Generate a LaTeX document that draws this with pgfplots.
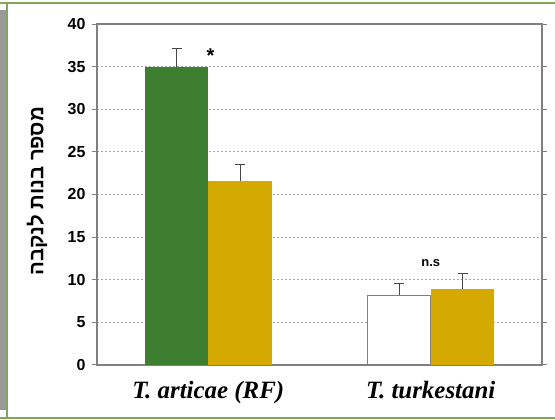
\documentclass[border=0pt]{standalone}
\usepackage{fontspec}
\setmainfont{Liberation Sans}
\newfontfamily\serifbi{Liberation Serif}
\newfontfamily\hebfont[Script=Hebrew]{Liberation Sans}
\usepackage{pgfplots}
\pgfplotsset{compat=1.18}
\TeXXeTstate=1
\definecolor{bargreen}{RGB}{62,126,48}
\definecolor{baryellow}{RGB}{213,170,0}
\definecolor{framegreen}{RGB}{128,168,88}
\definecolor{axgray}{RGB}{128,128,128}
\definecolor{errgray}{RGB}{70,70,70}
\pgfplotsset{mybar/.style={ybar, bar width=63.5bp, bar shift=0pt,
    error bars/y dir=plus, error bars/y explicit, error bars/error mark=|,
    error bars/error mark options={errgray, line width=1bp, mark size=5bp},
    error bars/error bar style={errgray, line width=1bp}}}
\begin{document}
\begin{tikzpicture}
\path[use as bounding box] (0,0) rectangle (555bp,420bp);
\fill[white] (0,0) rectangle (555bp,420bp);
\fill[gray!80] (0,10bp) rectangle (6.5bp,410bp);
\draw[framegreen, line width=1.6bp] (-1bp,2bp) -- (555bp,2bp);
\draw[framegreen, line width=1.6bp] (-1bp,417bp) -- (555bp,417bp);
\draw[framegreen, line width=1.6bp] (7bp,2bp) -- (7bp,417bp);
\begin{axis}[
  at={(97bp,55bp)}, anchor=south west,
  scale only axis, width=445bp, height=341bp,
  xmin=-0.5, xmax=1.5, ymin=0, ymax=40,
  ytick={0,5,...,40},
  xtick={0,1},
  xticklabels={{T. articae (RF)},{T. turkestani}},
  major x tick style={draw=none},
  extra x ticks={-0.5,0.5,1.5},
  extra x tick labels={},
  extra x tick style={major tick length=6bp, tick style={draw=axgray, line width=1bp}, xmajorgrids=false},
  tick align=outside,
  major tick length=5bp,
  ytick style={draw=axgray, line width=1bp},
  axis line style={draw=axgray, line width=1.4bp},
  ymajorgrids,
  major grid style={draw=gray!70, dash pattern=on 2bp off 2bp, line width=0.8bp},
  /pgf/number format/assume math mode=true,
  yticklabel style={font=\fontsize{16}{18}\selectfont\bfseries, xshift=-3bp},
  xticklabel style={font=\serifbi\fontsize{25}{28}\selectfont\bfseries\itshape, yshift=-8bp},
  ylabel={\hebfont\bfseries\beginR מספר בנות לנקבה\endR},
  ylabel style={at={(axis description cs:-0.135,0.51)}, anchor=center, font=\fontsize{20.5}{24}\selectfont},
  clip=false,
]
% T. articae (RF): x offsets of +-0.1427 category units place the two bars side by side
\addplot[mybar, fill=bargreen, draw=none] coordinates {(-0.1427,35.0) +- (0,2.1)};
\addplot[mybar, fill=baryellow, draw=none] coordinates {(0.1427,21.6) +- (0,1.9)};
% T. turkestani
\addplot[mybar, fill=white, draw=axgray, line width=1bp] coordinates {(0.8573,8.2) +- (0,1.4)};
\addplot[mybar, fill=baryellow, draw=none] coordinates {(1.1427,8.9) +- (0,1.8)};
\node[font=\fontsize{20}{20}\selectfont\bfseries, inner sep=0pt] at (axis cs:0.01,36.3) {*};
\node[font=\fontsize{13}{13}\selectfont\bfseries, inner sep=0pt] at (axis cs:1.0,12.0) {n.s};
\end{axis}
\end{tikzpicture}
\end{document}
